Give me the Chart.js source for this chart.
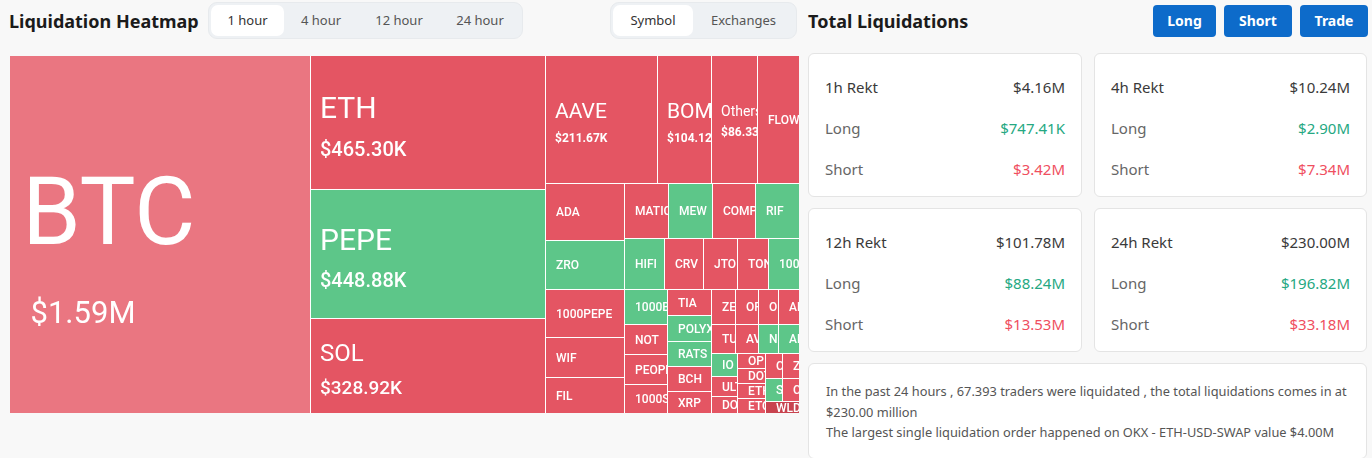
<!DOCTYPE html>
<html>
<head>
<meta charset="utf-8">
<title>Liquidation Heatmap</title>
<script src="https://cdn.jsdelivr.net/npm/chart.js@4.4.1/dist/chart.umd.min.js"></script>
<style>
  html, body { margin: 0; padding: 0; }
  body { width: 1372px; height: 458px; background: #f8f8f8; position: relative; overflow: hidden;
         font-family: "Noto Sans", "Open Sans", sans-serif; color: #1b1b1b; }
  .abs { position: absolute; }
  .h1 { top: 8px; font-size: 18px; font-weight: 700; line-height: 26px; white-space: nowrap; }
  .seg { top: 2px; height: 37px; box-sizing: border-box; background: #eef1f4; border: 1px solid #e7eaed;
         border-radius: 9px; display: flex; padding: 2px; }
  .seg div { height: 31px; line-height: 31px; text-align: center; font-size: 13px; color: #555; border-radius: 7px; }
  .seg .on { background: #fff; color: #333; }
  .btn { top: 5px; height: 32px; line-height: 32px; background: #0d6bca; color: #fff; font-weight: 700;
         font-size: 14px; text-align: center; border-radius: 4px; }
  .card { background: #fff; border: 1px solid #e4e4e4; border-radius: 6px; box-sizing: border-box; }
  .row { position: absolute; left: 16px; right: 16px; height: 20px; line-height: 20px; font-size: 15px;
         display: flex; justify-content: space-between; color: #666; white-space: nowrap; }
  .row.head { color: #3a3a3a; }
  .row.head span:last-child { color: #3a3a3a; }
  .up { color: #25a882; }
  .down { color: #ef4f5f; }
  .info { font-size: 12.8px; line-height: 20.5px; color: #555; padding: 17px 0 0 17px; white-space: nowrap; }
  #heat { left: 10px; top: 56px; width: 789px; height: 357px; }
</style>
</head>
<body>
<div class="abs h1" style="left:9px">Liquidation Heatmap</div>
<div class="abs seg" style="left:208px;width:315px">
  <div class="on" style="width:73px">1 hour</div>
  <div style="width:74px">4 hour</div>
  <div style="width:82px">12 hour</div>
  <div style="width:80px">24 hour</div>
</div>
<div class="abs seg" style="left:610px;width:187px">
  <div class="on" style="width:80px">Symbol</div>
  <div style="width:101px">Exchanges</div>
</div>
<div class="abs h1" style="left:808px">Total Liquidations</div>
<div class="abs btn" style="left:1153px;width:63px">Long</div>
<div class="abs btn" style="left:1224px;width:68px">Short</div>
<div class="abs btn" style="left:1300px;width:68px">Trade</div>

<div id="heat" class="abs"><canvas id="heatmap"></canvas></div>
<div id="cards"></div>
<div class="abs card info" style="left:808px;top:363px;width:559px;height:96px">
  In the past 24 hours , 67.393 traders were liquidated , the total liquidations comes in at<br>
  $230.00 million<br>
  The largest single liquidation order happened on OKX - ETH-USD-SWAP value $4.00M
</div>

<script>
// 1 hour liquidations per symbol, $K, high -> low
const symbols = ['BTC', 'ETH', 'PEPE', 'SOL', 'AAVE', 'BOME', 'Others', 'FLOW',
  'ADA', 'ZRO', '1000PEPE', 'WIF', 'FIL', 'MATIC', 'MEW', 'COMP', 'RIF',
  'HIFI', 'CRV', 'JTO', 'TON', '1000FLOKI', '1000BONK', 'NOT', 'PEOPLE', '1000SATS',
  'TIA', 'POLYX', 'RATS', 'BCH', 'XRP', 'ZETA', 'ORDI', 'ONDO', 'ARB',
  'TURBO', 'AVAX', 'NEIRO', 'ALT', 'IO', 'ULTI', 'DOGE', 'OP', 'DOT', 'ETHFI', 'ETC',
  'CFX', 'ZK', 'SUI', 'CAKE', 'WLD'];
const amounts = [1590, 465.30, 448.88, 328.92, 211.67, 104.12, 86.33, 78,
  66.5, 57.5, 56.5, 46.5, 41, 35.5, 35.3, 35, 34.6,
  30, 29.8, 25.2, 23.2, 23, 22.6, 19, 18.9, 17.6,
  17.5, 16.8, 16.6, 16, 14, 12.3, 12.2, 10.5, 10.4,
  10.2, 10, 8.9, 8.7, 8.6, 7.8, 6.3, 6.2, 6, 6, 5.95,
  5.95, 5.85, 5.7, 5.6, 5.4];
// which side got liquidated more: s = shorts, l = longs
const dominant = ['s', 's', 'l', 's', 's', 's', 's', 's',
  's', 'l', 's', 's', 's', 's', 'l', 's', 'l',
  'l', 's', 's', 's', 'l', 'l', 's', 's', 's',
  's', 'l', 'l', 's', 's', 's', 's', 's', 's',
  's', 's', 'l', 'l', 'l', 's', 's', 's', 's', 's', 's',
  's', 's', 'l', 's', 's'];

const periods = ['1h Rekt', '4h Rekt', '12h Rekt', '24h Rekt'];
const rektTotal = ['$4.16M', '$10.24M', '$101.78M', '$230.00M'];
const rektLong = ['$747.41K', '$2.90M', '$88.24M', '$196.82M'];
const rektShort = ['$3.42M', '$7.34M', '$13.53M', '$33.18M'];

// summary cards
const cardPos = [[808, 53, 274], [1094, 53, 273], [808, 208, 274], [1094, 208, 273]];
document.getElementById('cards').innerHTML = periods.map((p, i) => `
  <div class="abs card" style="left:${cardPos[i][0]}px;top:${cardPos[i][1]}px;width:${cardPos[i][2]}px;height:144px">
    <div class="row head" style="top:23px"><span>${p}</span><span>${rektTotal[i]}</span></div>
    <div class="row" style="top:64px"><span>Long</span><span class="up">${rektLong[i]}</span></div>
    <div class="row" style="top:105px"><span>Short</span><span class="down">${rektShort[i]}</span></div>
  </div>`).join('');

// squarified layout, golden-ratio target like echarts
const RATIO = 0.5 * (1 + Math.sqrt(5));
function worst(row, fixed) {
  let sum = 0, max = 0, min = Infinity;
  row.forEach(n => { sum += n.area; max = Math.max(max, n.area); min = Math.min(min, n.area); });
  const s2 = sum * sum, f = fixed * fixed * RATIO;
  return s2 ? Math.max(f * max / s2, s2 / (f * min)) : Infinity;
}
function squarify(values, rect) {
  const total = values.reduce((a, b) => a + b, 0);
  const nodes = values.map((v, i) => ({ i, area: v / total * rect.w * rect.h }));
  const out = [];
  const r = { ...rect };
  const place = (row, fixed, flush) => {
    const sum = row.reduce((a, n) => a + n.area, 0);
    const horiz = fixed === r.w;
    let other = fixed ? sum / fixed : 0;
    const room = horiz ? r.h : r.w;
    if (flush || other > room) other = room;
    let last = horiz ? r.x : r.y;
    const end = horiz ? r.x + r.w : r.y + r.h;
    row.forEach((n, k) => {
      const step = n.area / other;
      const len = (k === row.length - 1 || end - last < step) ? end - last : step;
      out[n.i] = horiz ? { x: last, y: r.y, w: len, h: other } : { x: r.x, y: last, w: other, h: len };
      last += len;
    });
    if (horiz) { r.y += other; r.h -= other; } else { r.x += other; r.w -= other; }
  };
  let row = [], best = Infinity, fixed = Math.min(r.w, r.h);
  for (let k = 0; k < nodes.length;) {
    row.push(nodes[k]);
    const score = worst(row, fixed);
    if (score <= best) { k++; best = score; }
    else {
      row.pop();
      place(row, fixed, false);
      fixed = Math.min(r.w, r.h);
      row = []; best = Infinity;
    }
  }
  if (row.length) place(row, fixed, true);
  return out;
}

const RED = '#e45563', GREEN = '#5dc689';
const special = { BTC: '#ea7681', WLD: '#c8434f' };
function cellColor(i) {
  return special[symbols[i]] || (dominant[i] === 'l' ? GREEN : RED);
}
function money(v) {
  return v >= 1000 ? '$' + (v / 1000).toFixed(2) + 'M' : '$' + v.toFixed(2) + 'K';
}
function labelStyle(v) {
  if (v >= 1000) return { n: 94, nw: 400, v: 31, vw: 400 };
  if (v >= 400) return { n: 30, nw: 400, v: 20, vw: 500 };
  if (v >= 250) return { n: 24, nw: 400, v: 19, vw: 500 };
  if (v >= 100) return { n: 21, nw: 400, v: 12, vw: 700 };
  if (v >= 80) return { n: 14, nw: 400, v: 12, vw: 700 };
  return { n: 12, nw: 500 };
}
function drawLabel(ctx, i, x, y, w, h) {
  const v = amounts[i], st = labelStyle(v);
  const cy = y + h / 2;
  ctx.save();
  ctx.beginPath();
  ctx.rect(x, y, w, h);
  ctx.clip();
  ctx.fillStyle = '#fff';
  ctx.textAlign = 'left';
  ctx.textBaseline = 'alphabetic';
  ctx.font = `${st.nw} ${st.n}px Roboto`;
  if (st.v) {
    const nb = cy + 0.33 * st.n - 0.7 * st.v;
    ctx.fillText(symbols[i], x + 9 + Math.max(0, st.n - 30) * 0.05, nb);
    ctx.font = `${st.vw} ${st.v}px Roboto`;
    ctx.fillText(money(v), x + Math.max(9, 9 + (st.n - 30) * 0.18), nb + 1.2 * st.v + 0.45 * st.n);
  } else {
    ctx.fillText(symbols[i], x + 10, cy + 0.355 * st.n);
  }
  ctx.restore();
}

const treemapPlugin = {
  id: 'treemap',
  afterDatasetsDraw(chart) {
    const { ctx, scales: { x, y } } = chart;
    const x0 = x.getPixelForValue(0), x1 = x.getPixelForValue(1);
    const y0 = y.getPixelForValue(0), y1 = y.getPixelForValue(1);
    const boxes = squarify(amounts, { x: x0, y: y0, w: x1 - x0, h: y1 - y0 });
    ctx.save();
    ctx.fillStyle = '#fff';
    ctx.fillRect(x0, y0, x1 - x0, y1 - y0);
    boxes.forEach((b, i) => {
      const L = Math.round(b.x), T = Math.round(b.y);
      let R = Math.round(b.x + b.w), B = Math.round(b.y + b.h);
      if (R < Math.round(x1)) R -= 1;
      if (B < Math.round(y1)) B -= 1;
      ctx.fillStyle = cellColor(i);
      ctx.fillRect(L, T, R - L, B - T);
      drawLabel(ctx, i, L, T, R - L, B - T);
    });
    ctx.restore();
  }
};

new Chart(document.getElementById('heatmap'), {
  type: 'scatter',
  data: { datasets: [{ data: [] }] },
  options: {
    responsive: true,
    maintainAspectRatio: false,
    animation: false,
    events: [],
    layout: { padding: 0 },
    plugins: { legend: { display: false }, tooltip: { enabled: false } },
    scales: {
      x: { type: 'linear', min: 0, max: 1, display: false },
      y: { type: 'linear', min: 0, max: 1, reverse: true, display: false }
    }
  },
  plugins: [treemapPlugin]
});
</script>
</body>
</html>
